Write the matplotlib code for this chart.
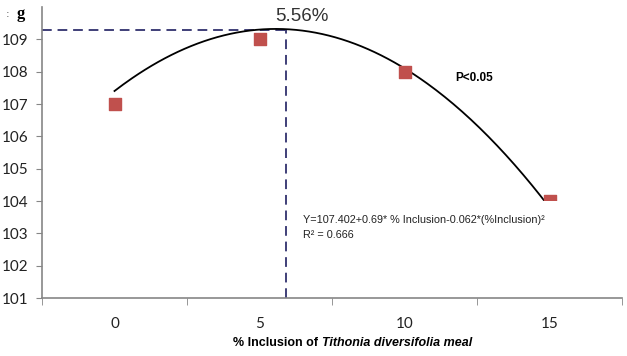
import matplotlib
matplotlib.use('Agg')
import matplotlib.pyplot as plt
from matplotlib.patches import Rectangle
import numpy as np

# data
inclusion = [0, 5, 10, 15]
weight = [107, 109, 108, 104]
tick_labels = ['0', '5', '10', '15']
y_ticks = [101, 102, 103, 104, 105, 106, 107, 108, 109]

# printed regression: Y = 107.402 + 0.69*x - 0.062*x^2
coef_a, coef_b, coef_c = 107.402, 0.69, -0.062
optimum_label = '5.56%'
optimum_x = 5.9   # where the dashed guide sits in the picture
optimum_y = 109.28

fig = plt.figure(figsize=(6.27, 3.56), dpi=100)
ax = fig.add_axes([42 / 627, 58 / 356, 580 / 627, 291 / 356])

# trendline over the data range
xs = np.linspace(min(inclusion), max(inclusion), 200)
ax.plot(xs, coef_a + coef_b * xs + coef_c * xs ** 2, color='black', lw=1.3, zorder=2)

ax.scatter(inclusion, weight, marker='s', s=85, color='#c0504d', zorder=3)

# white equation box (covers part of the last marker, as in the original)
ax.add_patch(Rectangle((6.2, 101.5), 11.0, 2.5, facecolor='white', edgecolor='none', zorder=4))

# dashed guides to the optimum
guide = '#3f3f78'
ax.plot([-2.5, optimum_x], [optimum_y, optimum_y], ls=(0, (5, 3)), color=guide, lw=1.4, zorder=1)
ax.plot([optimum_x, optimum_x], [101, optimum_y], ls=(0, (5, 3)), color=guide, lw=1.4, zorder=1)

ax.set_xlim(-2.5, 17.5)
ax.set_ylim(101, 110)
ax.set_xticks(inclusion)
ax.set_xticklabels(tick_labels)
ax.set_xticks([-2.5, 2.5, 7.5, 12.5, 17.5], minor=True)
ax.set_yticks(y_ticks)
ax.tick_params(axis='x', which='major', length=0, pad=14, labelsize=11, colors='#222222')
ax.tick_params(axis='x', which='minor', length=5, color='#868686', direction='out')
ax.tick_params(axis='y', length=4, color='#868686', labelsize=11, colors='#222222', pad=6)
for lbl in ax.get_xticklabels() + ax.get_yticklabels():
    lbl.set_fontfamily('Lato')

for side in ['top', 'right']:
    ax.spines[side].set_visible(False)
for side in ['left', 'bottom']:
    ax.spines[side].set_color('#868686')
    ax.spines[side].set_linewidth(1.2)

# annotations
ax.text(6.45, 109.45, optimum_label, ha='center', va='bottom', fontsize=13.5,
        color='#333333', family='Liberation Sans')
ax.text(11.75, 107.8, 'P<0.05', fontsize=8.5, fontweight='bold', family='Liberation Sans', va='center')
ax.text(6.5, 103.4, 'Y=107.402+0.69* % Inclusion-0.062*(%Inclusion)²', zorder=5,
        fontsize=7.8, family='Liberation Sans', color='#222222', va='center')
ax.text(6.5, 102.95, 'R² = 0.666', fontsize=7.8, family='Liberation Sans', color='#222222',
        va='center', zorder=5)

fig.text(17 / 627, 1 - 14 / 356, 'g', fontsize=12, fontweight='bold', family='Liberation Serif',
         ha='left', va='center')
fig.text(6 / 627, 1 - 14 / 356, ':', fontsize=8, color='#555555', ha='left', va='center')

# x label with italic species name
t1 = fig.text(233 / 627, 1 - 343 / 356, '% Inclusion of ', fontsize=9, fontweight='bold',
              family='Liberation Sans', va='center', ha='left')
fig.canvas.draw()
bb = t1.get_window_extent()
fig.text(bb.x1 / fig.bbox.width, 1 - 343 / 356, 'Tithonia diversifolia meal', fontsize=9,
         fontweight='bold', fontstyle='italic', family='Liberation Sans', va='center', ha='left')

fig.savefig('out.png', dpi=100)
